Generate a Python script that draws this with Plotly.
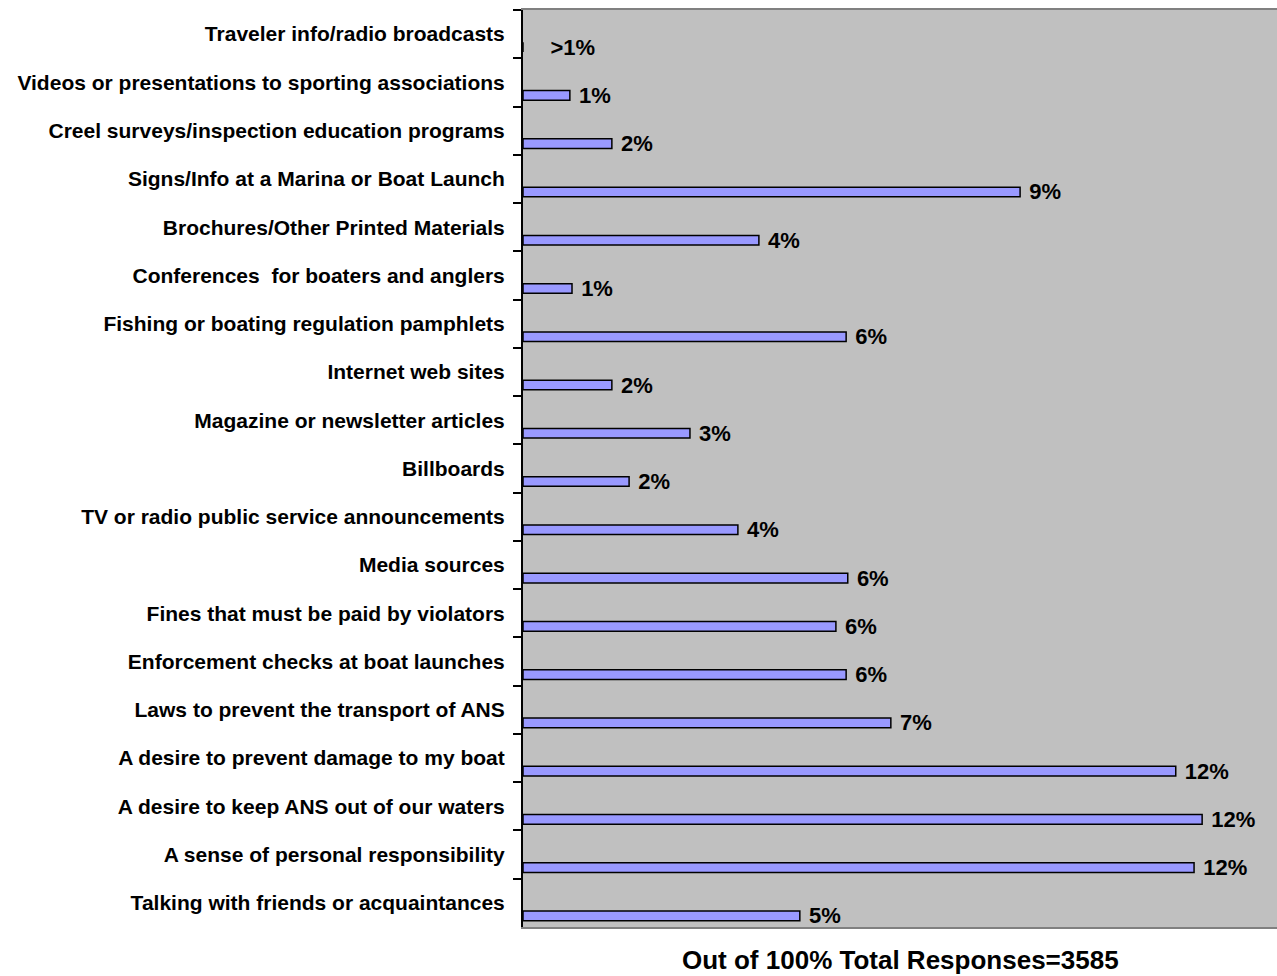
import plotly.graph_objects as go

# categories listed top to bottom as in the chart
categories = [
    "Traveler info/radio broadcasts",
    "Videos or presentations to sporting associations",
    "Creel surveys/inspection education programs",
    "Signs/Info at a Marina or Boat Launch",
    "Brochures/Other Printed Materials",
    "Conferences  for boaters and anglers",
    "Fishing or boating regulation pamphlets",
    "Internet web sites",
    "Magazine or newsletter articles",
    "Billboards",
    "TV or radio public service announcements",
    "Media sources",
    "Fines that must be paid by violators",
    "Enforcement checks at boat launches",
    "Laws to prevent the transport of ANS",
    "A desire to prevent damage to my boat",
    "A desire to keep ANS out of our waters",
    "A sense of personal responsibility",
    "Talking with friends or acquaintances",
]
# percent of total responses
values = [0.0, 0.87, 1.65, 9.23, 4.38, 0.91, 6.0, 1.65, 3.1, 1.97,
          3.99, 6.03, 5.81, 6.0, 6.83, 12.12, 12.61, 12.46, 5.14]
labels = ["\u00a0\u00a0\u00a0>1%", "1%", "2%", "9%", "4%", "1%", "6%", "2%", "3%", "2%",
          "4%", "6%", "6%", "6%", "7%", "12%", "12%", "12%", "5%"]
title = "Out of 100% Total Responses=3585"

font = "Liberation Sans, Arial, sans-serif"

fig = go.Figure(go.Bar(
    x=values,
    y=categories,
    orientation="h",
    width=0.2,
    offset=0.17,
    marker=dict(color="#9999FF", line=dict(color="black", width=1.5)),
    text=labels,
    texttemplate="\u00a0%{text}",
    textposition="outside",
    constraintext="none",
    cliponaxis=False,
    textfont=dict(family=font, size=22, color="black", weight="bold"),
))

fig.update_layout(
    width=1277, height=976,
    margin=dict(l=523, r=0, t=10, b=49),
    plot_bgcolor="#C0C0C0",
    paper_bgcolor="white",
    showlegend=False,
    font=dict(family=font, color="black"),
)
fig.update_xaxes(
    range=[0, 14], automargin=False,
    showgrid=False, zeroline=False, showticklabels=False, ticks="",
    showline=True, linecolor="#808080", linewidth=1.5, mirror=True,
)
fig.update_yaxes(
    autorange="reversed", automargin=False,
    showgrid=False,
    tickson="boundaries", ticks="outside", ticklen=8, tickcolor="black", tickwidth=2,
    showline=True, linecolor="black", linewidth=2,
    tickfont=dict(family=font, size=21, weight="bold"),
    ticklabelstandoff=12,
)
fig.add_annotation(
    text=title, xref="paper", yref="paper", x=0.5, y=0,
    xanchor="center", yanchor="top", yshift=-16, showarrow=False,
    font=dict(family=font, size=26, weight="bold"),
)

# drop the default page margin so the figure fills the window exactly
fig.write_html("out.html", config={"displayModeBar": False},
               post_script="document.body.style.margin='0';document.body.style.overflow='hidden';")
